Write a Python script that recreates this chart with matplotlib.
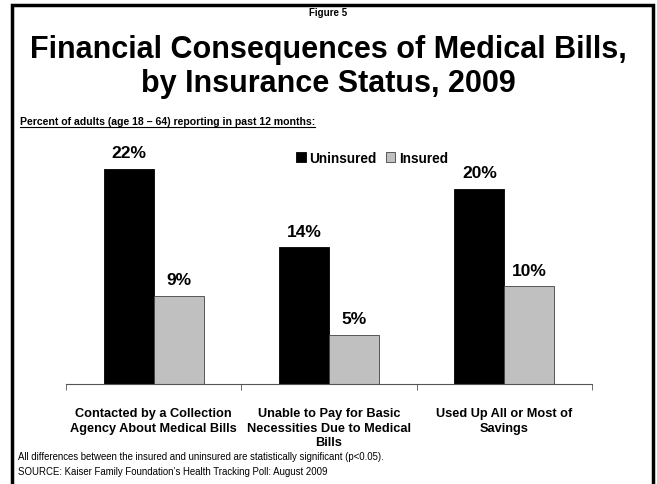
import matplotlib
matplotlib.use("Agg")
import matplotlib.pyplot as plt
import numpy as np
from matplotlib.patches import Rectangle

plt.rcParams['font.family'] = ['Liberation Sans', 'DejaVu Sans']

categories = ["Contacted by a Collection\nAgency About Medical Bills",
              "Unable to Pay for Basic\nNecessities Due to Medical\nBills",
              "Used Up All or Most of\nSavings"]
uninsured = [22, 14, 20]
insured = [9, 5, 10]
series_names = ["Uninsured", "Insured"]

W, H = 657, 485
fig = plt.figure(figsize=(W/100, H/100), dpi=100)

def fx(px): return px / W
def fy(py): return 1 - py / H

# border
fig.patches.append(Rectangle((fx(12), fy(490)), fx(653) - fx(12), fy(6) - fy(490),
                             transform=fig.transFigure, fill=False, edgecolor='black', linewidth=2.5))

ax = fig.add_axes([fx(66), fy(385), fx(592) - fx(66), fy(141) - fy(385)])
x = np.arange(len(categories))
bw = 0.285
ax.bar(x - bw/2, uninsured, bw, color='black', edgecolor='black', linewidth=0.6, label=series_names[0])
ax.bar(x + bw/2, insured, bw, color='#c0c0c0', edgecolor='#404040', linewidth=0.6, label=series_names[1])
for xi, v in zip(x, uninsured):
    ax.text(xi - bw/2, v + 0.9, f"{v}%", ha='center', va='bottom', fontsize=12.5, fontweight='bold')
for xi, v in zip(x, insured):
    ax.text(xi + bw/2, v + 0.9, f"{v}%", ha='center', va='bottom', fontsize=12.5, fontweight='bold')

ax.set_xlim(-0.5, len(categories) - 0.5)
ax.set_ylim(0, 25)
for s in ['left', 'right', 'top']:
    ax.spines[s].set_visible(False)
ax.spines['bottom'].set_color('#555555')
ax.set_yticks([])
ax.set_xticks(x)
ax.set_xticklabels(categories, fontsize=9.2, fontweight='bold', linespacing=1.3)
ax.tick_params(axis='x', which='major', length=0, pad=16.5)
ax.set_xticks(np.arange(-0.5, len(categories)), minor=True)
ax.tick_params(axis='x', which='minor', length=4, color='#555555', direction='out')

leg = ax.legend(loc='center', bbox_to_anchor=((372 - 66) / (592 - 66), (385 - 159) / (385 - 141)),
                ncol=2, frameon=False, handlelength=0.7, handleheight=0.7, handletextpad=0.25,
                columnspacing=0.7, prop={'weight': 'bold', 'size': 9.8})

fig.text(0.5, fy(13), "Figure 5", ha='center', va='center', fontsize=7, fontweight='bold')
fig.text(0.5, fy(50), "Financial Consequences of Medical Bills,", ha='center', va='center',
         fontsize=22, fontweight='bold')
fig.text(0.5, fy(84), "by Insurance Status, 2009", ha='center', va='center',
         fontsize=22, fontweight='bold')
t = fig.text(fx(20), fy(122), "Percent of adults (age 18 \u2013 64) reporting in past 12 months:",
             ha='left', va='center', fontsize=7.6, fontweight='bold')
fig.canvas.draw()
bb = t.get_window_extent()
fig.add_artist(plt.Line2D([bb.x0 / fig.bbox.width, bb.x1 / fig.bbox.width],
                          [fy(128), fy(128)], transform=fig.transFigure, color='black', linewidth=0.8))

fig.text(fx(18), fy(457), "All differences between the insured and uninsured are statistically significant (p<0.05).",
         ha='left', va='center', fontsize=6.9)
fig.text(fx(18), fy(472), "SOURCE: Kaiser Family Foundation\u2019s Health Tracking Poll: August 2009",
         ha='left', va='center', fontsize=6.9)

fig.savefig("out.png", dpi=100)
